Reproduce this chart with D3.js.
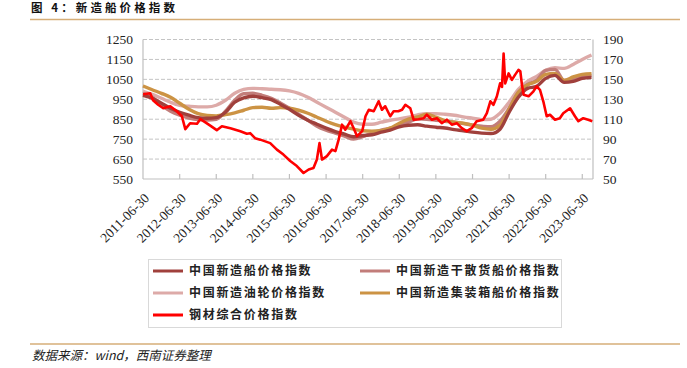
<!DOCTYPE html>
<html><head><meta charset="utf-8">
<script src="https://cdn.jsdelivr.net/npm/d3@7"></script>
<style>body{margin:0;background:#fff}</style>
</head><body><svg id="c" width="687" height="368"></svg>
<script>
// ---------- DATA ----------
const shipDates = ["2011-06-30","2011-09-30","2011-12-31","2012-03-31","2012-06-30","2012-09-30","2012-12-31","2013-03-31","2013-06-30","2013-09-30","2013-12-31","2014-03-31","2014-06-30","2014-09-30","2014-12-31","2015-03-31","2015-06-30","2015-09-30","2015-12-31","2016-03-31","2016-06-30","2016-09-30","2016-12-31","2017-03-31","2017-06-30","2017-09-30","2017-12-31","2018-03-31","2018-06-30","2018-09-30","2018-12-31","2019-03-31","2019-06-30","2019-09-30","2019-12-31","2020-03-31","2020-06-30","2020-09-30","2020-12-31","2021-03-31","2021-06-30","2021-09-30","2021-12-31","2022-03-31","2022-06-30","2022-09-30","2022-12-31","2023-03-31","2023-06-30","2023-09-30"];
const cnpi = [970,955,930,905,885,870,858,855,858,885,935,957,965,958,948,925,900,870,845,825,805,788,775,762,768,772,785,795,812,820,822,815,810,806,798,792,785,780,778,800,885,960,1005,1015,1055,1070,1035,1040,1055,1060];
const bulk = [978,960,920,890,870,856,848,846,850,890,945,978,980,970,955,932,905,875,845,815,795,780,765,750,762,780,795,805,820,835,852,850,845,840,835,828,820,815,812,840,905,985,1025,1045,1095,1100,1045,1050,1065,1070];
const tanker = [990,975,955,935,920,915,912,912,920,945,980,1000,1005,1003,1000,998,992,980,960,935,910,885,860,835,825,825,835,845,852,860,872,878,878,875,870,862,855,848,850,880,935,1000,1040,1065,1095,1108,1105,1125,1150,1172];
const container = [1017,998,980,960,930,900,878,869,867,873,882,895,908,910,905,908,905,895,880,860,840,823,810,800,792,790,792,805,830,850,862,875,860,843,835,830,820,805,800,820,900,985,1022,1040,1075,1080,1045,1062,1075,1078];

const steelDates = ["2011-07-01","2011-09-10","2011-10-08","2011-11-28","2012-01-18","2012-03-28","2012-06-01","2012-07-22","2012-08-25","2012-10-12","2012-12-20","2013-01-22","2013-03-10","2013-05-01","2013-07-05","2013-08-25","2013-11-18","2014-02-25","2014-05-01","2014-06-03","2014-07-22","2014-09-12","2014-12-20","2015-02-25","2015-05-01","2015-07-08","2015-09-12","2015-11-18","2016-01-08","2016-02-25","2016-03-30","2016-04-25","2016-05-20","2016-07-08","2016-08-28","2016-10-01","2016-11-02","2016-12-06","2017-01-08","2017-02-28","2017-04-01","2017-05-05","2017-06-25","2017-07-28","2017-08-30","2017-10-18","2017-12-06","2018-01-08","2018-02-10","2018-04-01","2018-05-05","2018-06-20","2018-07-28","2018-08-30","2018-10-18","2018-11-20","2019-01-08","2019-02-28","2019-04-01","2019-05-22","2019-07-10","2019-08-28","2019-10-18","2019-12-06","2020-01-25","2020-03-15","2020-05-03","2020-06-22","2020-08-10","2020-10-15","2020-11-20","2020-12-25","2021-01-25","2021-02-28","2021-04-01","2021-04-20","2021-05-06","2021-05-22","2021-06-25","2021-07-28","2021-08-28","2021-10-01","2021-10-20","2021-11-05","2021-11-22","2022-01-10","2022-02-28","2022-04-01","2022-05-04","2022-06-06","2022-07-10","2022-08-12","2022-10-01","2022-11-18","2022-12-22","2023-02-28","2023-04-18","2023-05-22","2023-07-10","2023-08-28","2023-10-08"];
const steel = [135,136,129,124.5,121,123,118,113,100,106,105.5,110,107,103.5,99,103,101,98,95.5,96,91,89.5,86,79.5,74.5,68,63,56,59.5,61,69.5,86,69.5,73,79.5,78,89.5,104.5,99.5,108,101,93,98,113,119.5,118,128,119.5,123,113,118,118,119.5,124.5,121,109.5,110,111,114.5,109.5,111,106,109.5,104.5,106,101,98,101,108,109.5,116,128,124.5,133,146,142.5,176,146,156,149.5,154.5,159.5,158,144.5,134.5,133,138,143,139.5,128,113,114.5,109.5,111,116,121,113,108,111,109.5,108];

const leftTicks = [550,650,750,850,950,1050,1150,1250];
const rightTicks = [50,70,90,110,130,150,170,190];
const xTickLabels = ["2011-06-30","2012-06-30","2013-06-30","2014-06-30","2015-06-30","2016-06-30","2017-06-30","2018-06-30","2019-06-30","2020-06-30","2021-06-30","2022-06-30","2023-06-30"];
const seriesNames = ["中国新造船价格指数","中国新造干散货船价格指数","中国新造油轮价格指数","中国新造集装箱船价格指数","钢材综合价格指数"];
const seriesColors = ["#A0403C","#C27D7A","#DDAAA8","#CC9344","#FF0000"];

// ---------- CHART ----------
const svg = d3.select("#c");
const parse = d3.timeParse("%Y-%m-%d");
const L = 143, R = 593, T = 39.5, B = 179;
const x = d3.scaleTime().domain([parse("2011-06-30"), parse("2023-10-15")]).range([L, R]);
const yL = d3.scaleLinear().domain([550,1250]).range([B, T]);
const yR = d3.scaleLinear().domain([50,190]).range([B, T]);

// title
svg.append("text").attr("x",31).attr("y",12).attr("font-family","'Noto Sans CJK SC'")
  .attr("font-weight","bold").attr("font-size",11.5).attr("letter-spacing",3.1).attr("fill","#111")
  .text("图 4：新造船价格指数");
svg.append("line").attr("x1",30).attr("x2",680).attr("y1",19.5).attr("y2",19.5)
  .attr("stroke","#D6AE78").attr("stroke-width",1.5);

// gridlines
svg.append("g").selectAll("line").data(leftTicks.filter(d=>d>550)).join("line")
  .attr("x1",L).attr("x2",R).attr("y1",d=>yL(d)).attr("y2",d=>yL(d))
  .attr("stroke","#C4C4C4").attr("stroke-width",1).attr("stroke-dasharray","4,2");

// axes lines
const axG = svg.append("g").attr("stroke","#BFBFBF").attr("stroke-width",1.2);
axG.append("line").attr("x1",L).attr("x2",L).attr("y1",T).attr("y2",B);
axG.append("line").attr("x1",R).attr("x2",R).attr("y1",T).attr("y2",B);
axG.append("line").attr("x1",L).attr("x2",R).attr("y1",B).attr("y2",B);
axG.selectAll(".tk").data(xTickLabels.slice(1)).join("line")
  .attr("x1",d=>x(parse(d))).attr("x2",d=>x(parse(d))).attr("y1",B).attr("y2",B-5);

// left axis labels
svg.append("g").selectAll("text").data(leftTicks).join("text")
  .attr("x",133).attr("y",d=>yL(d)).attr("dy","0.35em").attr("text-anchor","end")
  .attr("font-family","'Liberation Serif'").attr("font-size",13.5).attr("fill","#222").text(d=>d);
// right axis labels
svg.append("g").selectAll("text").data(rightTicks).join("text")
  .attr("x",603).attr("y",d=>yR(d)).attr("dy","0.35em").attr("text-anchor","start")
  .attr("font-family","'Liberation Serif'").attr("font-size",13.5).attr("fill","#222").text(d=>d);
// x labels
svg.append("g").selectAll("text").data(xTickLabels).join("text")
  .attr("transform",d=>`translate(${x(parse(d))+7},${199}) rotate(-45)`)
  .attr("text-anchor","end").attr("font-family","'Liberation Serif'").attr("font-size",13.5)
  .attr("fill","#222").text(d=>d);

// lines
const sd = shipDates.map(parse);
const lineL = d3.line().x((d,i)=>x(sd[i])).y(d=>yL(d)).curve(d3.curveMonotoneX);
const ships = [tanker, bulk, container, cnpi];
const shipColors = [seriesColors[2], seriesColors[1], seriesColors[3], seriesColors[0]];
ships.forEach((s,i)=>{
  svg.append("path").datum(s).attr("d",lineL).attr("fill","none")
    .attr("stroke",shipColors[i]).attr("stroke-width",3.4).attr("stroke-linejoin","round");
});
const std = steelDates.map(parse);
const lineR = d3.line().x((d,i)=>x(std[i])).y(d=>yR(d));
svg.append("path").datum(steel).attr("d",lineR).attr("fill","none")
  .attr("stroke",seriesColors[4]).attr("stroke-width",2.6).attr("stroke-linejoin","round");

// legend
svg.append("rect").attr("x",148.5).attr("y",259.5).attr("width",413).attr("height",68)
  .attr("fill","#fff").attr("stroke","#D9D9D9").attr("stroke-width",1);
const legPos = [[153,271],[360,271],[153,293],[360,293],[153,315]];
const lg = svg.append("g").selectAll("g").data(seriesNames).join("g")
  .attr("transform",(d,i)=>`translate(${legPos[i][0]},${legPos[i][1]})`);
lg.append("line").attr("x1",0).attr("x2",30).attr("y1",0).attr("y2",0)
  .attr("stroke",(d,i)=>seriesColors[i]).attr("stroke-width",3);
lg.append("text").attr("x",36).attr("y",0).attr("dy","0.36em")
  .attr("font-family","'Noto Sans CJK SC'").attr("font-size",12).attr("font-weight","bold")
  .attr("letter-spacing",1.7).attr("fill","#222").text(d=>d);

// footer
svg.append("line").attr("x1",30).attr("x2",680).attr("y1",344).attr("y2",344)
  .attr("stroke","#D6AE78").attr("stroke-width",1.5);
svg.append("text").attr("x",32).attr("y",360).attr("font-family","'Noto Sans CJK SC'")
  .attr("font-size",12.5).attr("font-style","italic").attr("fill","#222")
  .text("数据来源：wind，西南证券整理");
</script></body></html>
